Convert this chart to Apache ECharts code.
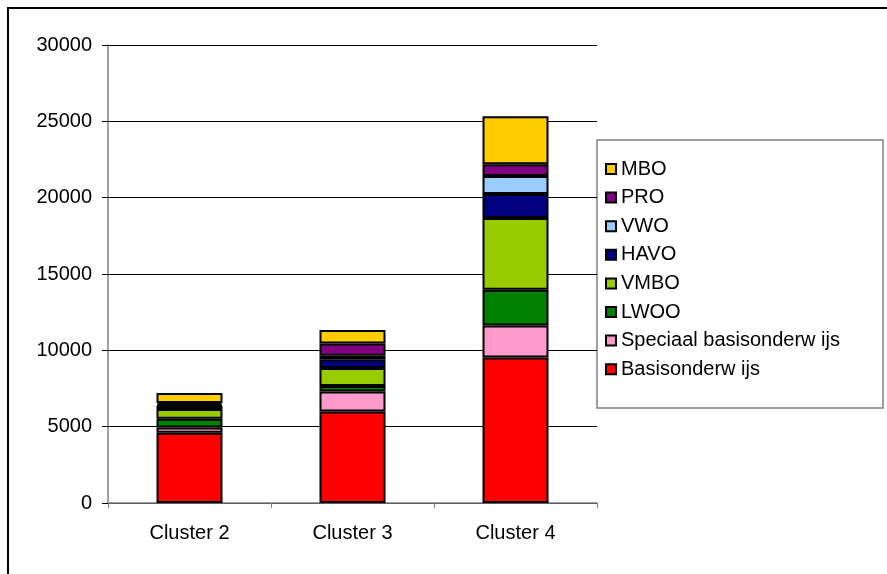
<!DOCTYPE html>
<html>
<head>
<meta charset="utf-8">
<script src="https://cdn.jsdelivr.net/npm/echarts@6/dist/echarts.min.js"></script>
<style>
html,body{margin:0;padding:0;background:#fff;}
#chart{width:887px;height:574px;}
</style>
</head>
<body>
<div id="chart"></div>
<script>
const categories = ["Cluster 2", "Cluster 3", "Cluster 4"];
const seriesNames = ["Basisonderw ijs", "Speciaal basisonderw ijs", "LWOO", "VMBO", "HAVO", "VWO", "PRO", "MBO"];
const basisonderwijs = [4600, 6000, 9530];
const speciaalBasisonderwijs = [340, 1300, 2090];
const lwoo = [580, 370, 2350];
const vmbo = [640, 1170, 4700];
const havo = [200, 570, 1570];
const vwo = [60, 240, 1175];
const pro = [130, 800, 780];
const mbo = [650, 890, 3130];
const yTicks = [0, 5000, 10000, 15000, 20000, 25000, 30000];
const colors = ["#FF0000", "#FF99CC", "#008000", "#99CC00", "#000080", "#99CCFF", "#800080", "#FFCC00"];

const values = [basisonderwijs, speciaalBasisonderwijs, lwoo, vmbo, havo, vwo, pro, mbo];
const font = "'Liberation Sans', Arial, sans-serif";

const chart = echarts.init(document.getElementById('chart'));
chart.setOption({
  animation: false,
  backgroundColor: '#fff',
  textStyle: { fontFamily: font },
  grid: { left: 108, top: 45, width: 489, height: 458, containLabel: false },
  xAxis: {
    type: 'category',
    data: categories,
    axisLine: { lineStyle: { color: '#808080', width: 1.5 } },
    axisTick: { show: true, length: 5, lineStyle: { color: '#808080' } },
    axisLabel: { fontSize: 20, color: '#000', margin: 20, fontFamily: font }
  },
  yAxis: {
    type: 'value',
    min: yTicks[0],
    max: yTicks[yTicks.length - 1],
    interval: yTicks[1] - yTicks[0],
    axisLine: { show: true, lineStyle: { color: '#808080', width: 1.5 } },
    axisTick: { show: true, length: 6, lineStyle: { color: '#000' } },
    axisLabel: { fontSize: 20, color: '#000', margin: 16, fontFamily: font, formatter: v => String(v) },
    splitLine: { show: true, lineStyle: { color: '#000', width: 1 } }
  },
  legend: {
    orient: 'vertical',
    left: 600,
    top: 154,
    itemWidth: 10,
    itemHeight: 10,
    itemGap: 8.6,
    itemTextGap: 4,
    icon: 'rect',
    data: seriesNames.slice().reverse(),
    textStyle: { fontSize: 20, color: '#000', fontFamily: font }
  },
  graphic: [
    { type: 'rect', shape: { x: 597, y: 140, width: 286, height: 268 }, style: { fill: 'none', stroke: '#808080', lineWidth: 1.5 }, z: 0 },
    { type: 'rect', shape: { x: 8, y: 8, width: 900, height: 620 }, style: { fill: 'none', stroke: '#000', lineWidth: 2 }, z: 0 }
  ],
  series: seriesNames.map((name, i) => ({
    name: name,
    type: 'bar',
    stack: 'total',
    barWidth: 66,
    data: values[i],
    itemStyle: { color: colors[i], borderColor: '#000', borderWidth: 2 }
  }))
});
</script>
</body>
</html>
